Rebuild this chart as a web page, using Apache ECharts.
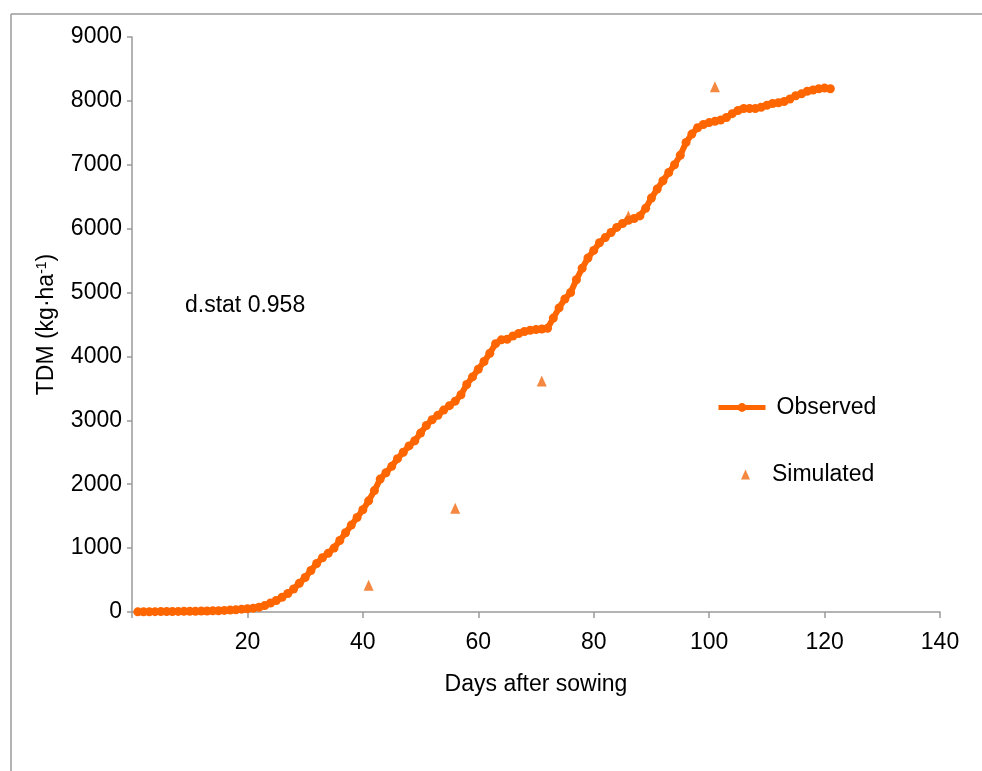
<!DOCTYPE html>
<html>
<head>
<meta charset="utf-8">
<script src="https://cdn.jsdelivr.net/npm/echarts@6/dist/echarts.min.js"></script>
<style>
  html, body { margin: 0; padding: 0; background: #fff; }
  #chart { width: 982px; height: 771px; }
</style>
</head>
<body>
<div id="chart"></div>
<script>
// Days after sowing for the daily observed record
const observedDays = [
  1, 2, 3, 4, 5, 6, 7, 8, 9, 10,
  11, 12, 13, 14, 15, 16, 17, 18, 19, 20,
  21, 22, 23, 24, 25, 26, 27, 28, 29, 30,
  31, 32, 33, 34, 35, 36, 37, 38, 39, 40,
  41, 42, 43, 44, 45, 46, 47, 48, 49, 50,
  51, 52, 53, 54, 55, 56, 57, 58, 59, 60,
  61, 62, 63, 64, 65, 66, 67, 68, 69, 70,
  71, 72, 73, 74, 75, 76, 77, 78, 79, 80,
  81, 82, 83, 84, 85, 86, 87, 88, 89, 90,
  91, 92, 93, 94, 95, 96, 97, 98, 99, 100,
  101, 102, 103, 104, 105, 106, 107, 108, 109, 110,
  111, 112, 113, 114, 115, 116, 117, 118, 119, 120,
  121
];

// Observed total dry matter, kg/ha
const observedTDM = [
  2, 3, 4, 5, 6, 7, 8, 9, 10, 11,
  12, 14, 16, 18, 20, 25, 30, 35, 45, 50,
  60, 75, 100, 140, 180, 230, 290, 360, 450, 540,
  650, 760, 850, 920, 1000, 1120, 1240, 1360, 1480, 1600,
  1740, 1900, 2080, 2180, 2280, 2400, 2500, 2600, 2680, 2800,
  2920, 3010, 3080, 3160, 3230, 3300, 3400, 3560, 3680, 3800,
  3920, 4050, 4200, 4260, 4270, 4320, 4360, 4390, 4410, 4420,
  4430, 4440, 4600, 4760, 4900, 5000, 5200, 5380, 5540, 5660,
  5780, 5860, 5940, 6020, 6080, 6130, 6160, 6200, 6320, 6480,
  6620, 6750, 6880, 7000, 7150, 7350, 7480, 7580, 7630, 7660,
  7680, 7700, 7740, 7800, 7850, 7880, 7880, 7880, 7900, 7930,
  7960, 7970, 7990, 8030, 8080, 8110, 8150, 8170, 8190, 8200,
  8190
];

// Model output every 15 days
const simulatedDays = [41, 56, 71, 86, 101];
const simulatedTDM = [420, 1625, 3615, 6200, 8220];

const xTicks = [0, 20, 40, 60, 80, 100, 120, 140];
const yTicks = [0, 1000, 2000, 3000, 4000, 5000, 6000, 7000, 8000, 9000];

const dstatText = 'd.stat 0.958';

const orange = '#ff6600';
const font = '"Liberation Sans", Arial, sans-serif';
const fs = 23;

const chart = echarts.init(document.getElementById('chart'), null, { renderer: 'canvas' });

chart.setOption({
  animation: false,
  backgroundColor: '#ffffff',
  grid: { left: 132, right: 42, top: 37, bottom: 159, containLabel: false },
  xAxis: {
    type: 'value',
    min: xTicks[0],
    max: xTicks[xTicks.length - 1],
    interval: xTicks[1] - xTicks[0],
    name: 'Days after sowing',
    nameLocation: 'middle',
    nameGap: 61,
    nameTextStyle: { fontFamily: font, fontSize: fs, color: '#000' },
    axisLine: { show: true, lineStyle: { color: '#9a9a9a', width: 1.5 } },
    axisTick: { show: true, inside: false, length: 6, lineStyle: { color: '#9a9a9a', width: 1.5 } },
    axisLabel: {
      fontFamily: font, fontSize: fs, color: '#000', margin: 19,
      formatter: v => (v === 0 ? '' : String(v))
    },
    splitLine: { show: false }
  },
  yAxis: {
    type: 'value',
    min: yTicks[0],
    max: yTicks[yTicks.length - 1],
    interval: yTicks[1] - yTicks[0],
    name: '{t|TDM (kg·ha}{s|-1}{t|)}',
    nameLocation: 'middle',
    nameRotate: 90,
    nameGap: 73,
    nameTextStyle: {
      rich: {
        t: { fontFamily: font, fontSize: fs, color: '#000' },
        s: { fontFamily: font, fontSize: 14, color: '#000', verticalAlign: 'top', padding: [0, 0, 10, 0] }
      }
    },
    axisLine: { show: true, lineStyle: { color: '#9a9a9a', width: 1.5 } },
    axisTick: { show: true, inside: false, length: 5, lineStyle: { color: '#9a9a9a', width: 1.5 } },
    axisLabel: {
      fontFamily: font, fontSize: fs, color: '#000', margin: 10,
      formatter: v => String(v)
    },
    splitLine: { show: false }
  },
  legend: [
    {
      data: ['Observed'],
      orient: 'vertical',
      left: 711,
      top: 391,
      itemWidth: 47,
      itemHeight: 11,
      lineStyle: { width: 5 },
      textStyle: { fontFamily: font, fontSize: fs, color: '#000', padding: [0, 0, 0, 6] }
    },
    {
      data: [{ name: 'Simulated', icon: 'triangle' }],
      orient: 'vertical',
      left: 736,
      top: 458,
      itemWidth: 9,
      itemHeight: 10,
      textStyle: { fontFamily: font, fontSize: fs, color: '#000', padding: [0, 0, 0, 17] }
    }
  ],
  graphic: [
    {
      type: 'line',
      shape: { x1: 11, y1: 14, x2: 982, y2: 14 },
      style: { stroke: '#9a9a9a', lineWidth: 1.5 },
      silent: true
    },
    {
      type: 'line',
      shape: { x1: 11, y1: 14, x2: 11, y2: 771 },
      style: { stroke: '#9a9a9a', lineWidth: 1.5 },
      silent: true
    },
    {
      type: 'text',
      left: 185,
      top: 294,
      style: { text: dstatText, font: fs + 'px ' + font, fill: '#000' }
    }
  ],
  series: [
    {
      name: 'Observed',
      type: 'line',
      data: observedDays.map((d, i) => [d, observedTDM[i]]),
      symbol: 'circle',
      symbolSize: 9,
      showSymbol: true,
      lineStyle: { color: orange, width: 6 },
      itemStyle: { color: orange },
      z: 2
    },
    {
      name: 'Simulated',
      type: 'scatter',
      data: simulatedDays.map((d, i) => [d, simulatedTDM[i]]),
      symbol: 'triangle',
      symbolSize: [10, 11],
      itemStyle: { color: '#f26a12' },
      z: 3
    }
  ]
});
</script>
</body>
</html>
